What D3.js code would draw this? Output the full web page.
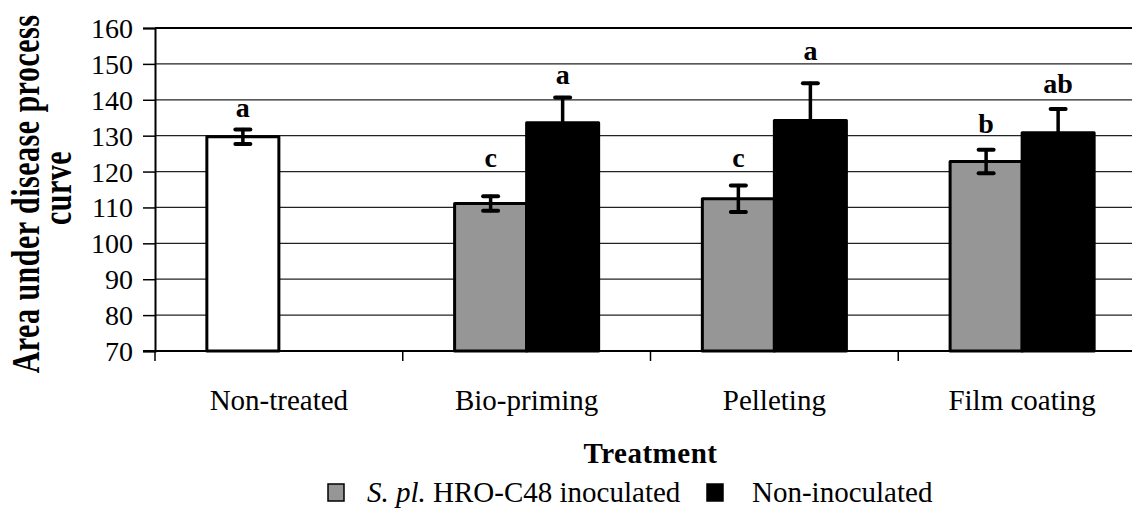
<!DOCTYPE html>
<html>
<head>
<meta charset="utf-8">
<script src="https://cdn.jsdelivr.net/npm/d3@7"></script>
<style>
  html, body { margin: 0; padding: 0; background: #fff; overflow: hidden; }
  svg { display: block; font-family: "Liberation Serif", "Times New Roman", serif; }
</style>
</head>
<body>
<svg id="chart" width="1132" height="510"></svg>
<script>
// ---- data ----
const categories = ["Non-treated", "Bio-priming", "Pelleting", "Film coating"];
const seriesNames = ["S. pl. HRO-C48 inoculated", "Non-inoculated"];
const inoculated = [129.7, 111.1, 112.4, 122.8];
const inoculatedErr = [2.0, 2.0, 3.7, 3.3];
const nonInoculated = [null, 133.6, 134.2, 130.8];
const nonInoculatedErr = [null, 7.0, 10.4, 6.6];
const inoculatedLetters = ["a", "c", "c", "b"];
const nonInoculatedLetters = [null, "a", "a", "ab"];
const inoculatedLetterAt = [135.2, 121.3, 121.3, 130.8];
const nonInoculatedLetterAt = [null, 144.4, 151.1, 141.9];
const yTicks = [70, 80, 90, 100, 110, 120, 130, 140, 150, 160];

// ---- layout ----
const pL = 155, pR = 1146, pT = 28, pB = 351;
const svg = d3.select("#chart");
const colors = { inoc: "#969696", non: "#000000", control: "#ffffff" };

const y = d3.scaleLinear().domain([70, 160]).range([pB, pT]);
const x0 = d3.scaleBand().domain(categories).range([pL, pR]).paddingInner(0).paddingOuter(0);
const x1 = d3.scaleBand().domain(seriesNames).range([0, x0.bandwidth()]).paddingInner(0).paddingOuter(0.72);

// records
const bars = [];
categories.forEach((c, i) => {
  bars.push({ cat: c, s: seriesNames[0], v: inoculated[i], e: inoculatedErr[i], l: inoculatedLetters[i], la: inoculatedLetterAt[i],
              fill: i === 0 ? colors.control : colors.inoc });
  if (nonInoculated[i] != null)
    bars.push({ cat: c, s: seriesNames[1], v: nonInoculated[i], e: nonInoculatedErr[i], l: nonInoculatedLetters[i], la: nonInoculatedLetterAt[i],
                fill: colors.non });
});

// gridlines
svg.append("g").selectAll("line").data(yTicks.filter(t => t > 70)).join("line")
  .attr("x1", pL).attr("x2", pR)
  .attr("y1", d => y(d)).attr("y2", d => y(d))
  .attr("stroke", d => d === 160 ? "#000" : "#222")
  .attr("stroke-width", d => d === 160 ? 2 : 1.2);

// bars
const bx = d => x0(d.cat) + x1(d.s);
svg.append("g").selectAll("rect").data(bars).join("rect")
  .attr("x", bx).attr("width", x1.bandwidth())
  .attr("y", d => y(d.v)).attr("height", d => y(70) - y(d.v))
  .attr("fill", d => d.fill).attr("stroke", "#000").attr("stroke-width", 3)
  .attr("stroke-linejoin", "round");

// error bars
const eg = svg.append("g").attr("stroke", "#000").attr("stroke-linecap", "round");
const cx = d => bx(d) + x1.bandwidth() / 2;
eg.selectAll("line.v").data(bars).join("line").attr("class", "v")
  .attr("x1", cx).attr("x2", cx)
  .attr("y1", d => y(d.v + d.e)).attr("y2", d => y(d.v - d.e))
  .attr("stroke-width", 3.5);
eg.selectAll("line.t").data(bars).join("line").attr("class", "t")
  .attr("x1", d => cx(d) - 7.5).attr("x2", d => cx(d) + 7.5)
  .attr("y1", d => y(d.v + d.e)).attr("y2", d => y(d.v + d.e))
  .attr("stroke-width", 4);
eg.selectAll("line.b").data(bars).join("line").attr("class", "b")
  .attr("x1", d => cx(d) - 7.5).attr("x2", d => cx(d) + 7.5)
  .attr("y1", d => y(d.v - d.e)).attr("y2", d => y(d.v - d.e))
  .attr("stroke-width", 4);

// letters
svg.append("g").selectAll("text").data(bars).join("text")
  .attr("x", cx).attr("y", d => y(d.la))
  .attr("text-anchor", "middle").attr("font-weight", "bold").attr("font-size", 28)
  .text(d => d.l);

// y axis
const yAxis = d3.axisLeft(y).tickValues(yTicks).tickSize(12).tickPadding(10);
const ya = svg.append("g").attr("transform", `translate(${pL},0)`).call(yAxis);
ya.select(".domain").attr("stroke", "#000").attr("stroke-width", 2);
ya.selectAll(".tick line").attr("stroke", "#000").attr("stroke-width", 1.5);
ya.selectAll(".tick text").attr("font-size", 28).attr("fill", "#000")
  .attr("font-family", "Liberation Serif, Times New Roman, serif").attr("dy", "0.34em");

// x axis
const xa = svg.append("g").attr("transform", `translate(0,${pB})`);
xa.append("line").attr("x1", pL - 12).attr("x2", pR).attr("y1", 0).attr("y2", 0)
  .attr("stroke", "#000").attr("stroke-width", 2);
const boundaries = categories.map(c => x0(c)).concat([x0.range()[1]]);
xa.selectAll("line.tk").data(boundaries).join("line").attr("class", "tk")
  .attr("x1", d => d).attr("x2", d => d).attr("y1", 0).attr("y2", 10)
  .attr("stroke", "#000").attr("stroke-width", 1.5);
xa.selectAll("text").data(categories).join("text")
  .attr("x", d => x0(d) + x0.bandwidth() / 2).attr("y", 410 - pB)
  .attr("text-anchor", "middle").attr("font-size", 29).text(d => d);

// axis titles
svg.append("text").attr("x", (pL + pR) / 2).attr("y", 463)
  .attr("text-anchor", "middle").attr("font-weight", "bold").attr("font-size", 29)
  .attr("letter-spacing", 0.5).text("Treatment");
const yt = svg.append("g").attr("font-weight", "bold").attr("font-size", 30).attr("text-anchor", "middle");
yt.append("text").attr("transform", "translate(39,194) rotate(-90) scale(1,1.33)").attr("letter-spacing", 0.5).text("Area under disease process");
yt.append("text").attr("transform", "translate(71,188) rotate(-90) scale(1,1.33)").attr("letter-spacing", 0.5).text("curve");

// legend
const lg = svg.append("g");
const legendItems = [
  { fill: colors.inoc, sx: 328, tx: 367, parts: [["S. pl.", true], [" HRO-C48 inoculated", false]] },
  { fill: colors.non, sx: 707, tx: 752, parts: [["Non-inoculated", false]] }
];
legendItems.forEach(it => {
  lg.append("rect").attr("x", it.sx).attr("y", 484).attr("width", 16).attr("height", 17)
    .attr("fill", it.fill).attr("stroke", "#000").attr("stroke-width", 1.5);
  const t = lg.append("text").attr("x", it.tx).attr("y", 502).attr("font-size", 29);
  it.parts.forEach(p => t.append("tspan").attr("font-style", p[1] ? "italic" : "normal").text(p[0]));
});
</script>
</body>
</html>
